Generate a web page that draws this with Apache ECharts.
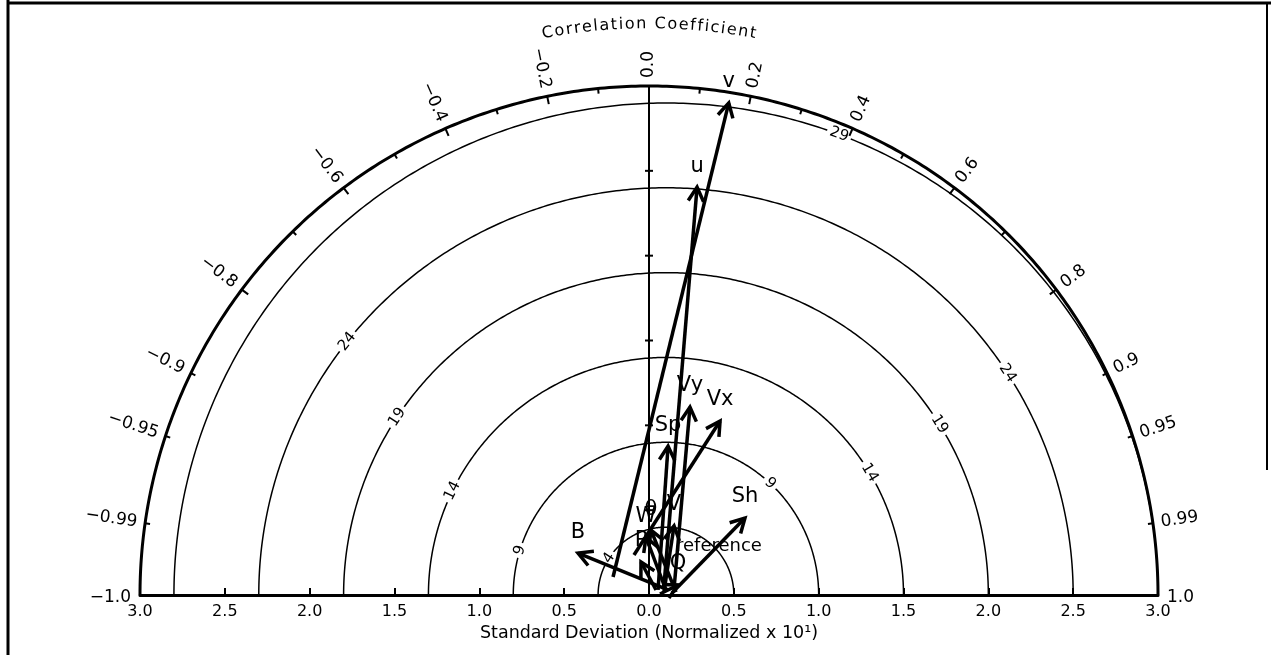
<!DOCTYPE html>
<html>
<head>
<meta charset="utf-8">
<script src="https://cdn.jsdelivr.net/npm/echarts@6/dist/echarts.min.js"></script>
<style>
html, body { margin: 0; padding: 0; background: #fff; }
#chart { width: 1271px; height: 655px; }
</style>
</head>
<body>
<div id="chart"></div>
<script>
// 标准差轴
var sdMax = 3.0;
var sdTicks = [0.5, 1.0, 1.5, 2.0, 2.5];
// 相关系数刻度
var corrMajor = [-0.99, -0.95, -0.9, -0.8, -0.6, -0.4, -0.2, 0.0, 0.2, 0.4, 0.6, 0.8, 0.9, 0.95, 0.99];
var corrMinor = [-0.7, -0.5, -0.3, -0.1, 0.1, 0.3, 0.5, 0.7];
var corrEnds = [-1.0, 1.0];
// 参考点
var refStd = 0.1;
// 均方根误差等值线
var rmsLevels = [0.4, 0.9, 1.4, 1.9, 2.4, 2.9];
var rmsText = ['4', '9', '14', '19', '24', '29'];
// 各变量箭头：起点(std, corr) -> 终点(std, corr)
var varNames = ['v', 'u', 'Vy', 'Vx', 'Sp', 'Sh', 'B', 'P', 'Q', 'θ', 'W', 'V'];
var stdFrom  = [0.237, 0.103, 0.150, 0.252, 0.061, 0.136, 0.116, 0.051, 0.065, 0.160, 0.104, 0.090];
var corrFrom = [-0.894, 0.857, 0.980, -0.351, 0.874, 0.996, 0.967, 0.814, 0.996, 0.994, 0.959, 0.980];
var stdTo    = [2.938, 2.421, 1.134, 1.108, 0.885, 0.725, 0.486, 0.200, 0.181, 0.383, 0.342, 0.433];
var corrTo   = [0.160, 0.117, 0.213, 0.378, 0.127, 0.780, -0.861, -0.236, 0.945, 0.031, -0.052, 0.341];

// 等值线标签所在角度(度, 以参考点为圆心) —— 只是排版
var rmsLabelAngles = [[147], [163, 47], [154, 31], [146.5, 32], [141.5, 33], [69.4]];

var FONT = '"DejaVu Sans", sans-serif';
var titleText = 'Correlation Coefficient';

function toXY(s, r) {
    return [s * r, s * Math.sqrt(Math.max(0, 1 - r * r))];
}
function fmtCorr(v) {
    var s = Math.abs(v).toString();
    if (s.indexOf('.') < 0) s += '.0';
    return (v < 0 ? '\u2212' : '') + s;
}

var chart = echarts.init(document.getElementById('chart'));

// 外圈半圆 + 纵轴
function renderFrame(params, api) {
    var o = api.coord([0, 0]);
    var pts = [];
    for (var a = 0; a <= 180; a += 0.5) {
        var t = a * Math.PI / 180;
        pts.push(api.coord([sdMax * Math.cos(t), sdMax * Math.sin(t)]));
    }
    var kids = [{type: 'polyline', shape: {points: pts}, style: {stroke: '#000', lineWidth: 3, fill: 'none'}}];
    var top = api.coord([0, sdMax]);
    kids.push({type: 'line', shape: {x1: o[0], y1: o[1], x2: top[0], y2: top[1]}, style: {stroke: '#000', lineWidth: 2}});
    sdTicks.forEach(function (v) {
        var p = api.coord([0, v]);
        kids.push({type: 'line', shape: {x1: p[0] - 4, y1: p[1], x2: p[0] + 4, y2: p[1]}, style: {stroke: '#000', lineWidth: 2}});
    });
    return {type: 'group', children: kids};
}

// 相关系数刻度和标签  kind: 0 小刻度, 1 长刻度+标签, 2 只有标签, 3 短刻度+标签
function renderCorr(params, api) {
    var c = api.value(0), kind = api.value(1);
    var o = api.coord([0, 0]);
    var p = api.coord(toXY(sdMax, c));
    var dx = p[0] - o[0], dy = p[1] - o[1];
    var L = Math.sqrt(dx * dx + dy * dy);
    var ux = dx / L, uy = dy / L;
    var kids = [];
    if (kind !== 2) {
        var len = kind === 1 ? 8 : 5;
        kids.push({type: 'line', shape: {x1: p[0], y1: p[1], x2: p[0] - ux * len, y2: p[1] - uy * len},
            style: {stroke: '#000', lineWidth: 2}});
    }
    if (kind !== 0) {
        var th = Math.acos(c);
        var right = th <= Math.PI / 2 + 1e-6;
        var off = kind === 2 ? 9 : 8;
        kids.push({
            type: 'text', x: p[0] + ux * off, y: p[1] + uy * off + (kind === 2 ? 3 : 0),
            rotation: right ? th : th - Math.PI,
            style: {text: fmtCorr(c), fill: '#000', font: '17px ' + FONT,
                align: right ? 'left' : 'right', verticalAlign: 'middle'}
        });
    }
    return {type: 'group', children: kids};
}

// 均方根误差等值线
function renderRms(params, api) {
    var r = api.value(0), i = api.value(1);
    var pts = [];
    for (var a = 0; a <= 180; a += 0.5) {
        var t = a * Math.PI / 180;
        pts.push(api.coord([refStd + r * Math.cos(t), r * Math.sin(t)]));
    }
    var kids = [{type: 'polyline', shape: {points: pts}, style: {stroke: '#000', lineWidth: 1.5, fill: 'none'}}];
    var c0 = api.coord([refStd, 0]);
    var rpx = api.coord([refStd + r, 0])[0] - c0[0];
    rmsLabelAngles[i].forEach(function (deg) {
        var t = deg * Math.PI / 180;
        kids.push({
            type: 'text', x: c0[0] + rpx * Math.cos(t), y: c0[1] - rpx * Math.sin(t),
            rotation: t - Math.PI / 2,
            style: {text: rmsText[i], fill: '#000', font: '15px ' + FONT, align: 'center',
                verticalAlign: 'middle', backgroundColor: '#fff', padding: [1, 3]}
        });
    });
    return {type: 'group', children: kids};
}

// 箭头
function renderArrow(params, api) {
    var i = api.value(0);
    var a = api.coord(toXY(stdFrom[i], corrFrom[i]));
    var b = api.coord(toXY(stdTo[i], corrTo[i]));
    var ang = Math.atan2(b[1] - a[1], b[0] - a[0]);
    var h = 16, w = 0.5;
    var p1 = [b[0] - h * Math.cos(ang - w), b[1] - h * Math.sin(ang - w)];
    var p2 = [b[0] - h * Math.cos(ang + w), b[1] - h * Math.sin(ang + w)];
    return {
        type: 'group',
        children: [
            {type: 'line', shape: {x1: a[0], y1: a[1], x2: b[0], y2: b[1]}, style: {stroke: '#000', lineWidth: 3.5}},
            {type: 'polyline', shape: {points: [p1, b, p2]}, style: {stroke: '#000', lineWidth: 3.5, fill: 'none'}},
            {type: 'text', x: b[0], y: b[1] - 21,
                style: {text: varNames[i], fill: '#000', font: '21px ' + FONT, align: 'center', verticalAlign: 'middle'}}
        ]
    };
}

// 参考点标签
function renderRef(params, api) {
    var p = api.coord([api.value(0), 0]);
    return {type: 'text', x: p[0] + 10, y: p[1] - 49,
        style: {text: 'reference', fill: '#000', font: '18px ' + FONT, align: 'left', verticalAlign: 'middle'}};
}

// 弧形标题
function renderTitle(params, api) {
    var o = api.coord([0, 0]);
    var R = api.coord([sdMax, 0])[0] - o[0] + 62;
    var font = '16px ' + FONT;
    var ctx = document.createElement('canvas').getContext('2d');
    ctx.font = font;
    var gap = 1.6;
    var chars = titleText.split('');
    var widths = chars.map(function (ch) { return ctx.measureText(ch).width; });
    var total = 0;
    widths.forEach(function (wd) { total += wd + gap; });
    total -= gap;
    var s = -total / 2;
    var kids = [];
    chars.forEach(function (ch, k) {
        var mid = s + widths[k] / 2;
        var phi = Math.PI / 2 - mid / R;
        kids.push({
            type: 'text', x: o[0] + R * Math.cos(phi), y: o[1] - R * Math.sin(phi),
            rotation: phi - Math.PI / 2,
            style: {text: ch, fill: '#000', font: font, align: 'center', verticalAlign: 'middle'}
        });
        s += widths[k] + gap;
    });
    return {type: 'group', children: kids};
}

var corrData = corrMajor.map(function (c) { return [c, Math.abs(c) >= 0.9 ? 3 : 1]; })
    .concat(corrMinor.map(function (c) { return [c, 0]; }))
    .concat(corrEnds.map(function (c) { return [c, 2]; }));

var option = {
    animation: false,
    backgroundColor: '#fff',
    grid: {left: 140, right: 113, top: 86, bottom: 60, outerBoundsMode: 'none'},
    xAxis: {
        type: 'value', min: -3, max: 3, interval: 0.5,
        axisLine: {lineStyle: {color: '#000', width: 3}},
        axisTick: {inside: true, length: 7, lineStyle: {color: '#000', width: 2}},
        axisLabel: {color: '#000', fontSize: 16, fontFamily: FONT, margin: 9,
            formatter: function (v) { return Math.abs(v).toFixed(1); }},
        splitLine: {show: false},
        name: 'Standard Deviation (Normalized x 10\u00b9)',
        nameLocation: 'middle', nameGap: 28,
        nameTextStyle: {color: '#000', fontSize: 17.5, fontFamily: FONT}
    },
    yAxis: {type: 'value', min: 0, max: 3, show: false},
    graphic: [
        {type: 'line', shape: {x1: 8, y1: 0, x2: 8, y2: 655}, style: {stroke: '#000', lineWidth: 3}},
        {type: 'line', shape: {x1: 8, y1: 3, x2: 1271, y2: 3}, style: {stroke: '#000', lineWidth: 3}},
        {type: 'line', shape: {x1: 1267, y1: 3, x2: 1267, y2: 470}, style: {stroke: '#000', lineWidth: 2}}
    ],
    series: [
        {type: 'custom', renderItem: renderRms, data: rmsLevels.map(function (r, i) { return [r, i]; }), silent: true, z: 1},
        {type: 'custom', renderItem: renderFrame, data: [[0, 0]], silent: true, z: 2},
        {type: 'custom', renderItem: renderCorr, data: corrData, silent: true, z: 2},
        {type: 'custom', renderItem: renderTitle, data: [[0, 0]], silent: true, z: 2},
        {type: 'custom', renderItem: renderRef, data: [[refStd, 0]], silent: true, z: 3},
        {type: 'custom', renderItem: renderArrow, data: varNames.map(function (n, i) { return [i, 0]; }), silent: true, z: 4}
    ]
};
chart.setOption(option);
</script>
</body>
</html>
